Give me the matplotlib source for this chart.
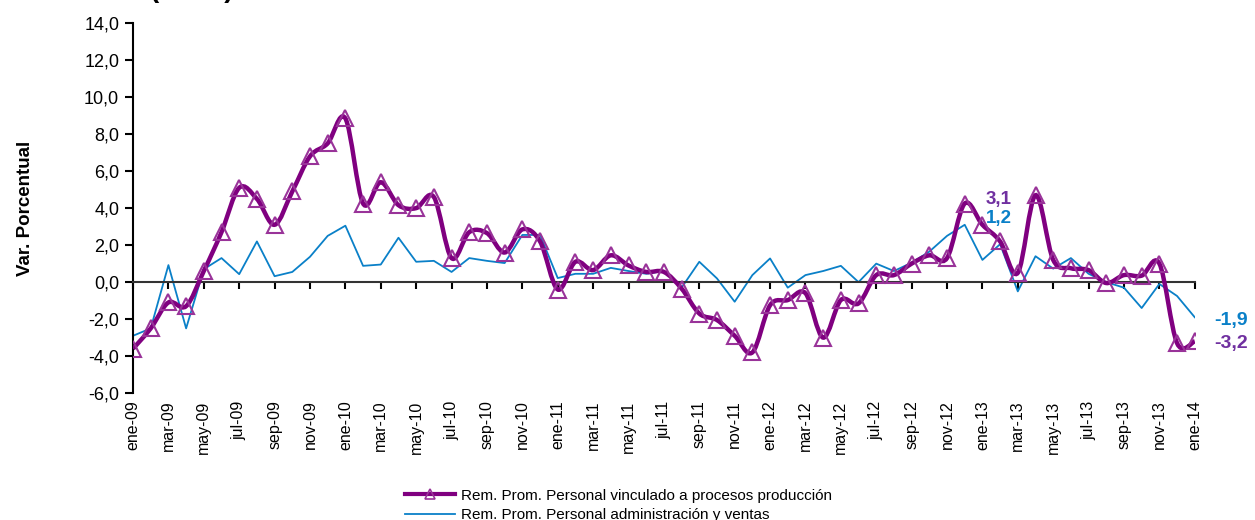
import numpy as np
import matplotlib
matplotlib.use('Agg')
from matplotlib import pyplot as plt
from matplotlib import transforms
from matplotlib.path import Path
from matplotlib.patches import PathPatch
from matplotlib.lines import Line2D

plt.rcParams['font.family'] = ['Liberation Sans', 'DejaVu Sans']

meses = ['ene', 'feb', 'mar', 'abr', 'may', 'jun', 'jul', 'ago', 'sep', 'oct', 'nov', 'dic']
labels = [f'{m}-{y:02d}' for y in range(9, 14) for m in meses] + ['ene-14']

# Rem. Prom. Personal vinculado a procesos produccion
produccion = [-3.6, -2.5, -1.1, -1.3, 0.6, 2.7, 5.1, 4.5, 3.1, 4.9, 6.8, 7.5,
              8.85, 4.25, 5.4, 4.16, 4.0, 4.6, 1.3, 2.7, 2.65, 1.6, 2.85, 2.2,
              -0.4, 1.1, 0.65, 1.45, 0.9, 0.55, 0.55, -0.35, -1.7, -2.05, -2.9, -3.8,
              -1.25, -0.97, -0.6, -3.0, -0.97, -1.15, 0.38, 0.38, 1.0, 1.45, 1.3, 4.25,
              3.1, 2.2, 0.5, 4.7, 1.2, 0.75, 0.65, -0.05, 0.38, 0.35, 1.0, -3.3,
              -3.2]

# Rem. Prom. Personal administracion y ventas
administracion = [-2.9, -2.5, 0.92, -2.5, 0.7, 1.3, 0.43, 2.2, 0.32, 0.55, 1.37, 2.5,
                  3.05, 0.88, 0.95, 2.4, 1.1, 1.15, 0.55, 1.3, 1.15, 1.03, 2.55, 2.55,
                  0.22, 0.45, 0.45, 0.77, 0.6, 0.45, 0.6, -0.3, 1.1, 0.2, -1.06, 0.38,
                  1.28, -0.3, 0.38, 0.6, 0.88, 0.0, 1.0, 0.6, 1.05, 1.65, 2.5, 3.1,
                  1.2, 2.05, -0.5, 1.4, 0.73, 1.3, 0.45, 0.0, -0.3, -1.4, -0.1, -0.75,
                  -1.9]

lab_prod = 'Rem. Prom. Personal vinculado a procesos producción'
lab_adm = 'Rem. Prom. Personal administración y ventas'

purple = '#800080'
mark = '#993399'
txt_purple = '#7030A0'
blue = '#0A80C8'

x = np.arange(len(labels))


def smooth_path(xs, ys):
    # curva suavizada tipo Excel (bezier cubica por tramos)
    p = np.column_stack([xs, ys]).astype(float)
    verts = [p[0]]
    codes = [Path.MOVETO]
    n = len(p)
    for i in range(n - 1):
        p0 = p[i - 1] if i > 0 else p[i]
        p3 = p[i + 2] if i + 2 < n else p[i + 1]
        c1 = p[i] + (p[i + 1] - p0) / 6
        c2 = p[i + 1] - (p3 - p[i]) / 6
        verts += [c1, c2, p[i + 1]]
        codes += [Path.CURVE4] * 3
    return Path(verts, codes)


fig = plt.figure(figsize=(12.55, 5.2), dpi=100)
ax = fig.add_axes([0.106, 0.244, 0.846, 0.7115])

ax.plot(x, administracion, color=blue, lw=1.3, zorder=2)
ax.add_patch(PathPatch(smooth_path(x, produccion), fc='none', ec=purple, lw=3.2, zorder=3))
ax.plot(x, produccion, ls='none', marker='^', ms=11.5,
        mfc='none', mec=mark, mew=1.5, zorder=4)

ax.set_xlim(0, len(labels) - 1)
ax.set_ylim(-6, 14)
yt = np.arange(-6, 15, 2)
ax.set_yticks(yt)
ax.set_yticklabels([f'{v:.1f}'.replace('.', ',') for v in yt], fontsize=13)

ax.spines['top'].set_visible(False)
ax.spines['right'].set_visible(False)
ax.spines['bottom'].set_position(('data', 0))
ax.spines['left'].set_linewidth(1.5)
ax.spines['bottom'].set_linewidth(1.5)
ax.spines['bottom'].set_color('#333333')

ax.set_xticks(x[::2])
ax.tick_params(axis='x', direction='out', length=5, width=1.5, labelbottom=False)
ax.tick_params(axis='y', direction='out', length=6, width=1.5, pad=4)

trans = transforms.blended_transform_factory(ax.transData, ax.transAxes)
for i in x[::2]:
    ax.text(i, -0.02, labels[i], transform=trans, rotation=90, ha='center', va='top', fontsize=11.5)

ax.set_ylabel('Var. Porcentual', fontsize=13.5, fontweight='bold', labelpad=36)

# etiquetas de valores
ax.text(48.2, 4.45, '3,1', color=txt_purple, fontsize=13.5, fontweight='bold', va='center')
ax.text(48.2, 3.45, '1,2', color=blue, fontsize=13.5, fontweight='bold', va='center')
ax.text(61.1, -2.05, '-1,9', color=blue, fontsize=14, fontweight='bold', va='center', clip_on=False)
ax.text(61.1, -3.3, '-3,2', color=txt_purple, fontsize=14, fontweight='bold', va='center', clip_on=False)

# titulo cortado arriba
fig.text(0.1195, 1.006, '(en %)', fontsize=20, fontweight='bold', va='baseline')

handles = [Line2D([], [], color=purple, lw=3, marker='^', ms=7, mfc='none', mec=mark, mew=1.2),
           Line2D([], [], color=blue, lw=1.3)]
fig.legend(handles, [lab_prod, lab_adm], loc='upper left', bbox_to_anchor=(0.3227, 0.06),
           frameon=False, fontsize=11, handlelength=3.3, labelspacing=0.35,
           borderaxespad=0, borderpad=0, handletextpad=0.35)

fig.savefig('out.png', dpi=100)
